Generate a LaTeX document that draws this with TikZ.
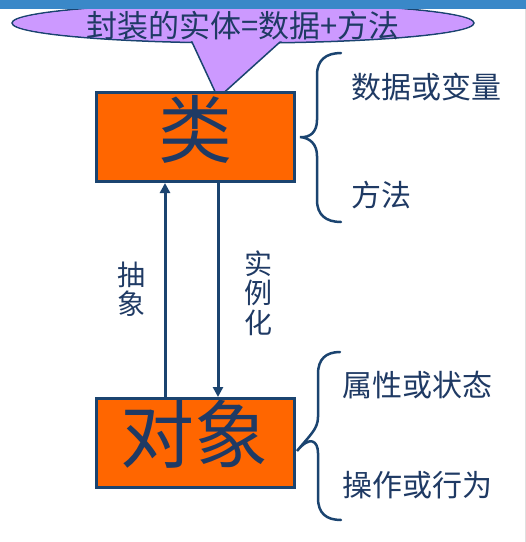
\documentclass[tikz,border=0pt]{standalone}
\usepackage{fontspec}
\newfontfamily\cjk{Noto Sans CJK SC}
\usetikzlibrary{arrows.meta}
\definecolor{navy}{HTML}{1B4470}
\definecolor{txtblue}{HTML}{1F3A64}
\definecolor{boxorange}{HTML}{FF6600}
\definecolor{lilac}{HTML}{CC99FF}
\definecolor{barblue}{HTML}{3A88C8}
\tikzset{
  box/.style={draw=navy, fill=boxorange, line width=3pt, minimum width=198pt, minimum height=89pt, inner sep=0pt},
  bigtext/.style={font=\cjk\fontsize{74}{76}\selectfont, text=txtblue, inner sep=0pt},
  label/.style={font=\cjk\fontsize{30}{32}\selectfont, text=txtblue, inner sep=0pt},
  vlabel/.style={font=\cjk\fontsize{28}{29.5}\selectfont, text=txtblue, inner sep=0pt, align=center},
  arr/.style={draw=navy, line width=3pt, -{Triangle[length=10pt,width=10pt]}},
  brace/.style={draw=navy, line width=2.5pt, line cap=round}
}
\begin{document}
\begin{tikzpicture}[x=1pt,y=-1pt]
\useasboundingbox (0,0) rectangle (526,542);
\fill[white] (0,0) rectangle (526,542);
\draw[gray!25, line width=1pt] (525.5,9) -- (525.5,542);
% callout
\filldraw[fill=lilac, draw=navy, line width=1.5pt] (243,23) ellipse [x radius=231pt, y radius=20pt];
\filldraw[fill=lilac, draw=navy, line width=1.5pt] (186.4,30) -- (218,98) -- (293.3,30);
\fill[lilac] (243,23) ellipse [x radius=229.5pt, y radius=18.6pt];
\node[label, font=\cjk\fontsize{31}{33}\selectfont] (title) at (243,26) {封装的实体=数据+方法};
% top bar
\fill[barblue] (0,0) rectangle (526,9);
% boxes
\node[box] (cls) at (195.5,137) {};
\node[box] (obj) at (195.5,443) {};
\node[bigtext] (clst) at (195,129) {类};
\node[bigtext] (objt) at (195,434) {对象};
% arrows
\draw[arr] ([xshift=-30.5pt]obj.north) -- ([xshift=-30.5pt]cls.south);
\draw[arr] ([xshift=22.5pt]cls.south) -- ([xshift=22.5pt]obj.north);
\node[vlabel] (abs) at (131,289) {抽\\象};
\node[vlabel] (inst) at (258,293) {实\\例\\化};
% braces
\coordinate (b1) at ([xshift=4pt]cls.east);
\draw[brace] (341,53) .. controls (326,53) and (317,60) .. (317,75) -- (317,120)
  .. controls (317,132) and (310,138) .. (b1)
  .. controls (310,138) and (317,144) .. (317,156) -- (317,200)
  .. controls (317,215) and (326,222) .. (341,222);
\coordinate (b2) at ([xshift=1pt,yshift=-8pt]obj.east);
\draw[brace] (340,352) .. controls (326,352) and (318,359) .. (318,374) -- (318,417)
  .. controls (318,429) and (310,435) .. (b2)
  .. controls (310,435) and (318,441) .. (318,453) -- (318,498)
  .. controls (318,513) and (326,520) .. (341,520);
\node[label, anchor=west] (data) at (351,87) {数据或变量};
\node[label, anchor=west] (meth) at (351,195) {方法};
\node[label, anchor=west] (attr) at (342,385) {属性或状态};
\node[label, anchor=west] (oper) at (342,485) {操作或行为};
\end{tikzpicture}
\end{document}
